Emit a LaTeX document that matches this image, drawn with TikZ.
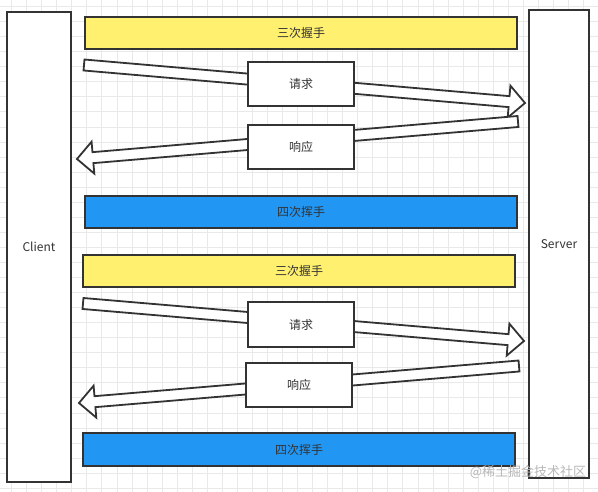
\documentclass[tikz,border=0pt]{standalone}
\usepackage{fontspec}
\setmainfont{Noto Sans CJK SC}
\usetikzlibrary{calc}
\definecolor{hsyellow}{RGB}{255,240,112}
\definecolor{hsblue}{RGB}{33,150,243}
\definecolor{ink}{RGB}{51,51,51}
\definecolor{gridc}{RGB}{233,233,233}
\tikzset{
  box/.style={draw=ink, line width=1.8pt, anchor=north west, inner sep=0pt, outer sep=0pt,
    font=\fontsize{12}{14}\selectfont, text=ink},
  sidebox/.style={box, fill=white},
  msgbox/.style={box, fill=white, minimum width=106pt, minimum height=44pt},
  yellowbar/.style={box, fill=hsyellow, minimum width=432pt, minimum height=32pt},
  bluebar/.style={box, fill=hsblue, minimum width=432pt, minimum height=32pt},
  arrowline/.style={draw=ink, fill=white, line width=1.8pt, line join=miter},
  gridline/.style={draw=gridc, line width=0.9pt},
}
\newcommand{\hsarrow}[2]{%
  \coordinate (#1c) at ($(#2)!16pt!(#1)$);
  \path[arrowline] ($(#1)!5.5pt!90:(#2)$) -- ($(#1c)!5.5pt!90:(#2)$) -- ($(#1c)!16pt!90:(#2)$)
    -- (#2) -- ($(#1c)!16pt!-90:(#2)$) -- ($(#1c)!5.5pt!-90:(#2)$) -- ($(#1)!5.5pt!-90:(#2)$) -- cycle;
}
\begin{document}
\begin{tikzpicture}[x=1pt,y=-1pt]
\useasboundingbox (0,0) rectangle (598,492);
\fill[white] (0,0) rectangle (598,492);
% grid
\foreach \i in {0,...,39} \draw[gridline] (11.6+15.05*\i,0) -- ++(0,492);
\foreach \j in {0,...,32} \draw[gridline] (0,6.6+15.05*\j) -- ++(598,0);

% client / server
\node[sidebox, minimum width=64pt, minimum height=470pt] (client) at (7,12) {Client};
\node[sidebox, minimum width=60pt, minimum height=468pt] (server) at (529,10) {Server};

% bars
\node[yellowbar] (hs1) at (85,17) {三次握手};
\node[bluebar] (wv1) at (85,196) {四次挥手};
\node[yellowbar] (hs2) at (83,255) {三次握手};
\node[bluebar, minimum height=33pt] (wv2) at (83,433) {四次挥手};

% arrow end points
\coordinate (rqa) at (84,65);   \coordinate (rqb) at (525,103);
\coordinate (rsa) at (518,121.5); \coordinate (rsb) at (77,159);
\coordinate (rqc) at (83,303.5); \coordinate (rqd) at (524,341);
\coordinate (rsc) at (519,366); \coordinate (rsd) at (79,403);

\hsarrow{rqa}{rqb}
\hsarrow{rsa}{rsb}
\hsarrow{rqc}{rqd}
\hsarrow{rsc}{rsd}

% message boxes
\node[msgbox] (req1) at (248,62) {请求};
\node[msgbox] (res1) at (248,125) {响应};
\node[msgbox, minimum height=45pt] (req2) at (248,302) {请求};
\node[msgbox] (res2) at (246,363) {响应};

% watermark
\node[text=black!28, font=\fontsize{13}{15}\selectfont, inner sep=0pt] (wm) at (528,472) {@稀土掘金技术社区};
\end{tikzpicture}
\end{document}
